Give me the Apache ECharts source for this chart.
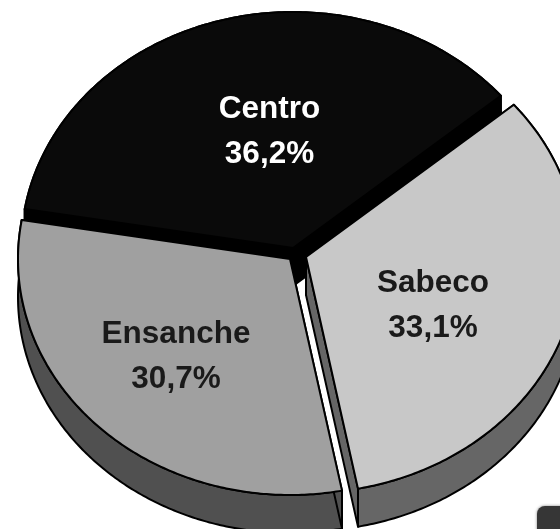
<!DOCTYPE html>
<html>
<head>
<meta charset="utf-8">
<style>html,body{margin:0;padding:0;background:#fff;overflow:hidden}#c{width:560px;height:529px}</style>
<script src="https://cdn.jsdelivr.net/npm/echarts@6/dist/echarts.min.js"></script>
</head>
<body>
<div id="c"></div>
<script>
// Data
var categories = ['Centro', 'Sabeco', 'Ensanche'];
var shares = [36.2, 33.1, 30.7];

// Styles and layout of the tilted pie
var topColors = ['#0a0a0a', '#c8c8c8', '#a0a0a0'];
var wallColors = ['#000000', '#666666', '#505050'];
var textColors = ['#ffffff', '#1a1a1a', '#1a1a1a'];
var apexX = [293, 306, 290];
var apexY = [248, 257, 259];
var labelX = [269.5, 433, 176];
var labelY = [132, 306, 357];
var radiusX = 272, radiusY = 236, depth = 38, startDeg = -80.5;

var total = shares.reduce(function (a, b) { return a + b; }, 0);

function rimPoint(i, t) {
  return [apexX[i] + radiusX * Math.sin(t), apexY[i] - radiusY * Math.cos(t)];
}
function rim(i, t0, t1, dy) {
  var pts = [], n = 180;
  for (var k = 0; k <= n; k++) {
    var p = rimPoint(i, t0 + (t1 - t0) * k / n);
    pts.push([p[0], p[1] + dy]);
  }
  return pts;
}
function poly(points, fill, z) {
  return {
    type: 'polygon', z2: z,
    shape: { points: points },
    style: { fill: fill, stroke: '#000', lineWidth: 2, lineJoin: 'round' }
  };
}

function renderItem(params, api) {
  var i = params.dataIndex;
  var before = 0;
  for (var k = 0; k < i; k++) before += shares[k];
  var t0 = (startDeg + before / total * 360) * Math.PI / 180;
  var t1 = t0 + api.value(1) / total * 2 * Math.PI;
  var ax = apexX[i], ay = apexY[i];
  var children = [];
  var outer = rim(i, t0, t1, 0);
  // outer wall
  var lower = rim(i, t0, t1, depth).reverse();
  children.push(poly(outer.concat(lower), wallColors[i], 1));
  // radial walls
  var a = outer[0], b = outer[outer.length - 1];
  children.push(poly([[ax, ay], a, [a[0], a[1] + depth], [ax, ay + depth]], wallColors[i], 2));
  children.push(poly([[ax, ay], b, [b[0], b[1] + depth], [ax, ay + depth]], wallColors[i], 2));
  // top face
  children.push(poly([[ax, ay]].concat(outer), topColors[i], 3));
  // label
  var txt = api.value(1).toFixed(1).replace('.', ',') + '%';
  children.push({
    type: 'text', z2: 4,
    style: {
      x: labelX[i], y: labelY[i],
      text: categories[i] + '\n' + txt,
      fill: textColors[i],
      font: 'bold 31.5px "Liberation Sans", Arial, sans-serif',
      lineHeight: 45.5, align: 'center', verticalAlign: 'middle'
    }
  });
  return { type: 'group', children: children };
}

var chart = echarts.init(document.getElementById('c'), null, { renderer: 'canvas' });
chart.setOption({
  animation: false,
  backgroundColor: '#ffffff',
  graphic: [{
    type: 'rect', z: 0,
    shape: { x: 537, y: 506, width: 60, height: 60, r: 8 },
    style: { fill: '#363636', shadowBlur: 3, shadowColor: 'rgba(0,0,0,0.5)' }
  }],
  series: [{
    type: 'custom',
    coordinateSystem: 'none',
    renderItem: renderItem,
    data: categories.map(function (c, i) { return [i, shares[i]]; })
  }]
});
</script>
</body>
</html>
